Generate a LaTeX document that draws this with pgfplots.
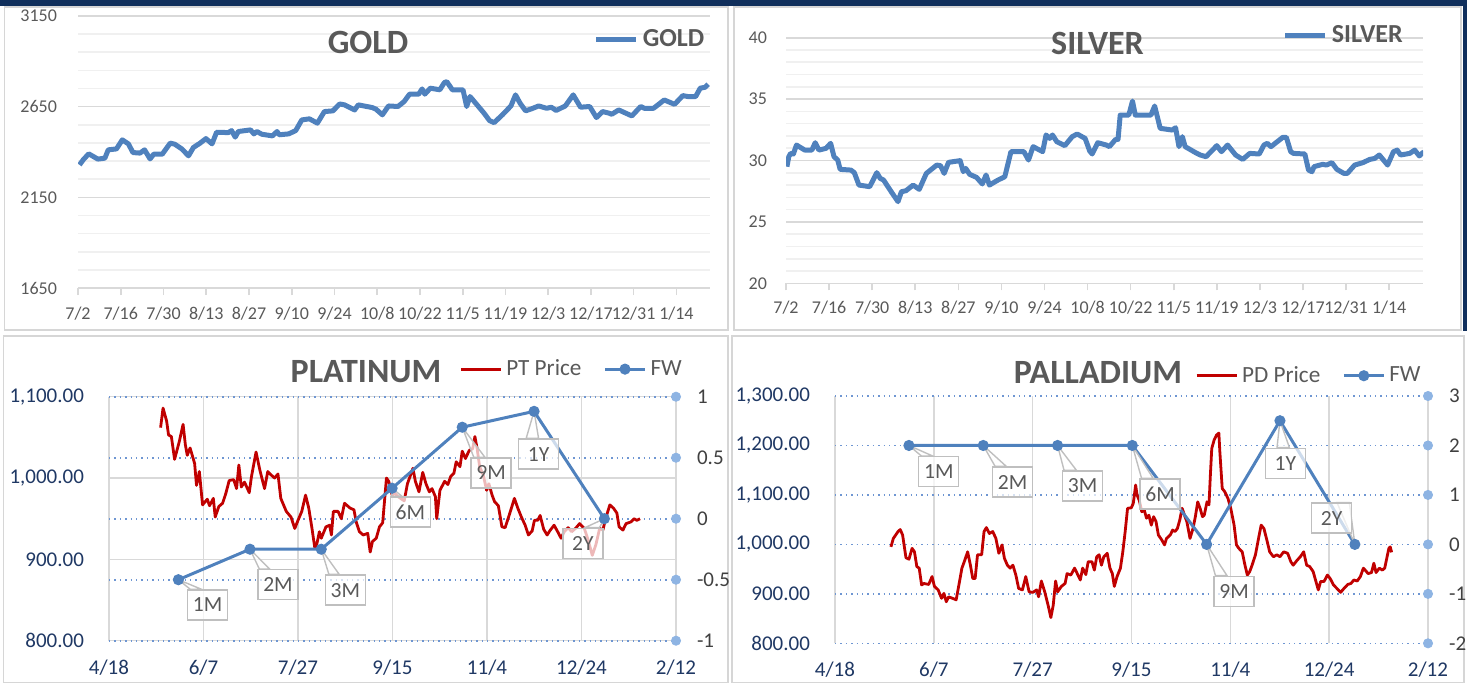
\documentclass[border=0pt]{standalone}
\usepackage{pgfplots}
\pgfplotsset{compat=1.18}
\usepackage{pgfplotstable}
\usepackage{fontspec}
\setmainfont{Carlito}
\usetikzlibrary{calc}
\definecolor{lineblue}{RGB}{79,129,189}
\definecolor{prred}{RGB}{192,0,0}
\definecolor{navytxt}{RGB}{31,56,100}
\definecolor{navybar}{RGB}{16,47,92}
\definecolor{txtgray}{RGB}{89,89,89}
\definecolor{gridgray}{RGB}{217,217,217}
\definecolor{minorgray}{RGB}{240,240,240}
\definecolor{dotgrid}{RGB}{110,150,210}
\definecolor{dotblue}{RGB}{142,180,227}
\definecolor{lblgray}{RGB}{191,191,191}
\definecolor{framegray}{RGB}{214,214,214}

\pgfplotstableread{
d v
0.5 2329
1.7 2357
3.5 2390
6.5 2361
8.8 2366
9.9 2412
12.6 2417
14.5 2467
16.5 2445
18 2397
20.3 2394
21.8 2412
23.6 2362
24.8 2388
27.6 2388
30.2 2449
31.7 2443
34 2417
36.2 2379
37.8 2425
40 2449
41.9 2474
43.9 2445
45.4 2509
49.2 2507
50.3 2518
51.5 2482
52.5 2513
56.5 2522
57.6 2500
58.6 2513
60.2 2498
63.7 2489
65.2 2513
65.9 2495
69 2500
71.3 2518
73.3 2577
75.8 2583
78.4 2559
80.7 2623
83.5 2627
85.7 2665
87.3 2660
90.6 2632
91.8 2660
96.4 2645
97.6 2636
99.7 2605
101.7 2654
104.8 2651
106.8 2678
108.6 2719
111.6 2719
112.7 2748
113.6 2719
115.4 2752
118.5 2743
120 2783
120.8 2788
122.6 2743
126.1 2743
127.3 2651
128.4 2706
130.7 2660
133 2614
134.8 2573
136.3 2562
139 2605
141.8 2654
143.3 2715
144.8 2669
146.6 2627
148.5 2638
150.9 2654
153.5 2641
155 2647
156.6 2629
159.6 2654
162.2 2715
164.6 2647
167.6 2651
169.8 2590
171.8 2623
174 2614
174.8 2608
177.1 2632
181.4 2599
184.3 2651
185.5 2641
188.5 2641
192 2687
195.4 2663
198.1 2711
199.7 2706
202.3 2706
203.8 2752
205.4 2757
206.4 2774
}\golddata

\pgfplotstableread{
d v
0.3 29.50
0.9 30.31
1.5 30.58
2.4 30.53
3.4 31.26
6.1 30.85
8.4 30.85
9.5 31.45
10.7 30.85
13 30.99
14.5 31.40
15.6 30.31
16.8 30.04
17.6 29.28
21.1 29.22
22.2 29.01
23.7 28.00
27.2 27.87
28.3 28.41
29.5 29.01
30.6 28.55
31.7 28.41
34.4 27.38
36.4 26.65
37.5 27.46
39 27.54
41.3 28.00
43.3 27.65
45.6 28.95
49 29.63
50.2 29.58
51.4 28.95
52.8 29.85
56.6 29.99
57.6 29.09
58.4 29.36
59.7 28.87
61.9 28.63
63.8 28.09
65 28.82
66.1 28.00
68.9 28.41
71.1 28.68
73.1 30.72
77.3 30.72
78.8 30.04
80.3 31.13
83.4 30.72
84.5 32.08
85.7 31.80
86.6 32.08
88 31.53
90.6 31.21
93 31.94
94.6 32.16
97.2 31.80
98.7 30.77
99.5 30.53
101.3 31.45
104.1 31.26
105.1 31.13
107.1 31.72
107.9 31.72
108.6 33.70
111.4 33.70
112.6 34.84
113.5 33.70
118.6 33.70
119.8 34.44
121.6 32.62
125.5 32.48
126.6 32.67
127.7 31.13
128.8 31.94
129.7 31.13
133.1 30.64
134.6 30.45
136.5 30.31
140 31.21
141.5 30.72
143.5 31.26
146.1 30.45
148.4 30.09
150.7 30.58
153.8 30.53
155.3 31.26
156.4 31.40
157.6 31.13
161.4 31.88
162.6 31.88
164 30.72
164.9 30.58
168.6 30.53
169.8 29.22
170.9 29.09
171.6 29.50
174.4 29.69
175.6 29.63
177.4 29.82
179 29.28
181.3 28.95
182.4 28.95
184.8 29.63
187.4 29.82
189.7 30.09
191.3 30.17
192.8 30.45
195.5 29.63
197.4 30.72
198.6 30.85
199.7 30.45
202.7 30.58
204.3 30.85
205.8 30.37
207.3 30.72
}\silverdata

\pgfplotstableread{
d v
27.3 1062
28.6 1086
30.5 1070
31.5 1053
33 1051
34.7 1023
37.2 1045
39.2 1066
40.4 1041
41.4 1028
42.9 1037
45.3 1018
46.3 991
47.8 1008
49.5 967
52 974
53.2 966
55.2 975
56.2 952
58.1 965
60.1 969
61.8 981
63.6 997
66 998
67.5 987
68.7 1016
70 989
71.7 995
74.2 982
75.4 1002
77.8 1032
79.8 1010
82.3 987
84 1008
85.7 1004
87.6 1000
89.4 1005
90.9 975
93.8 959
96.3 952
98.3 938
100 948
102 959
104 979
105.7 963
107.4 938
108.9 914
109.9 918
111.3 934
112.3 926
114.8 940
116.7 942
117.7 930
118.7 959
121.2 959
122.9 950
124.6 969
127.6 963
129.6 961
130.8 946
132.5 934
134.5 930
136.9 932
138.2 909
139.4 922
141.4 926
143.1 940
144.8 945
146.8 1000
148 996
149.8 979
151.2 981
153 977
156.2 972
157.9 993
159.6 1004
160.8 1012
162.1 996
164 983
166 1007
167.7 993
169.5 983
170.9 987
172.7 977
173.4 950
175.1 985
177.6 996
179.3 992
180.8 1002
182.5 1006
183.7 1020
185.7 1014
186.9 1033
188.6 1024
190.6 1034
192.4 1036
193.6 1051
194.8 1036
196.1 1014
198 1004
199.8 985
201 993
202.7 979
204 971
206 966
207.9 940
209.6 939
212.1 957
214.5 975
216.3 963
218.2 952
220.2 942
221.9 930
223.9 935
225.1 948
226.8 948
228.1 954
230 937
231.8 930
233.5 936
235.5 942
237.4 934
239.2 926
240.9 934
242.9 939
244.8 934
246.8 938
249 944
251.5 938
253.5 924
255.7 905
257.6 918
259.6 938
261.3 936
263 952
265 967
266.9 963
268.7 957
269.9 940
271.9 936
273.6 944
276.1 946
277.8 950
279.3 948
281 950
}\ptdata

\pgfplotstableread{
d v
28.3 995
29.5 1012
31.9 1026
33 1030
34.2 1019
35.9 973
37.4 970
39 992
40.2 985
41.4 955
42.6 952
43.8 918
45 921
47.4 919
49.1 935
50.3 915
52.2 908
53.9 891
55.1 901
56.3 884
57.5 894
59.4 891
61.3 888
63 925
64.2 952
65.4 965
67.1 985
68.5 958
69.7 931
70.9 931
72.1 979
74.2 979
75.4 1026
76.6 1034
78.1 1022
79.8 1026
81.4 1012
82.9 982
84.5 999
85.7 972
87.2 958
88.6 952
90 958
91.5 938
92.9 911
94.8 908
96.5 935
98.2 904
100.1 903
102 908
103 894
104.4 926
106.1 904
107.8 877
109.2 852
110.4 877
111.6 926
112.6 904
114.5 915
116.4 921
117.4 941
119.3 938
121.2 952
122.9 938
124.1 928
125.3 952
126.9 939
128.1 965
130 965
131.2 948
132.4 975
133.6 979
134.8 958
136 975
137.7 982
139.1 952
140.3 941
141.3 915
142.7 935
144.4 952
145.6 985
146.8 1026
148 1073
149.9 1074
150.9 1083
152.1 1120
152.8 1100
154 1088
155.2 1066
156.4 1070
157.6 1053
158.8 1059
160 1039
161.2 1056
162.4 1046
163.6 1019
165.3 1009
166.7 999
167.7 1012
169.6 1019
170.8 1029
172 1026
173.2 1032
174.4 1049
175.6 1073
176.8 1059
178 1046
179.6 1012
181.1 1032
182.3 1056
183.5 1086
184.7 1073
185.9 1056
186.8 1059
188.2 1086
189.2 1080
189.9 1140
190.6 1194
191.8 1211
193 1221
194.2 1225
194.7 1187
195.9 1113
197.1 1107
198.8 1093
200.2 1073
201.9 1039
203.1 999
204.3 992
206 985
207.4 958
208.6 938
209.8 945
211 958
212.7 979
214.6 1019
215.6 1039
217 1032
218.7 1005
219.9 985
221.8 975
223.5 979
225.1 975
227 985
229 982
230.6 965
231.8 958
233.8 968
235.4 975
237.1 985
238.6 958
240.2 955
241.9 945
243.3 925
244.5 908
245.7 925
247.4 925
249.1 938
250.5 931
252.2 918
253.9 911
255.8 903
257.5 911
259.4 919
261 921
262.5 928
264.2 926
265.8 935
267.3 952
268.2 948
269.7 941
271.4 943
272.6 962
273.7 943
275.4 952
276.9 948
278.1 952
279.3 975
280.2 992
280.9 995
281.6 984
}\pddata

\tikzset{
  lbl/.style={draw=lblgray, line width=0.7pt, fill=white, fill opacity=0.72, text opacity=1,
    text=txtgray, font=\fontsize{10.8}{12}\selectfont, minimum width=20pt, minimum height=15pt, inner sep=1pt},
  ptr/.style={draw=lblgray, line width=0.7pt, fill=white, fill opacity=0.72},
}
\newcommand{\callout}[6]{%
  \path (#2) node[lbl, draw=none, fill=none, text opacity=0] (#6) {#3};
  \filldraw[ptr] (#1) -- ($(#6.north west)!#4!(#6.north east)$) -- ($(#6.north west)!#5!(#6.north east)$) -- cycle;
  \node[lbl] at (#2) {#3};
}

\pgfplotsset{
  topstyle/.style={
    scale only axis, anchor=north west,
    xmin=0, xmax=207,
    separate axis lines, axis x line*=bottom, axis y line*=left,
    y axis line style={draw=none}, x axis line style={draw=gridgray, line width=0.8pt},
    xtick={0,14,...,196},
    xticklabels={7/2,7/16,7/30,8/13,8/27,9/10,9/24,10/8,10/22,11/5,11/19,12/3,12/17,12/31,1/14},
    tick align=outside, major tick length=3.5pt,
    xtick style={draw=gridgray, line width=0.8pt}, ytick style={draw=none},
    minor y tick style={draw=none},
    ymajorgrids, yminorgrids,
    major grid style={draw=gridgray, line width=0.8pt},
    minor grid style={draw=minorgray, line width=0.8pt},
    ticklabel style={font=\fontsize{9}{10}\selectfont, text=txtgray},
    legend style={draw=none, fill=none, font=\bfseries\fontsize{13}{14}\selectfont, text=txtgray, inner sep=0pt},
    legend image code/.code={\draw[#1] (0pt,0pt) -- (20pt,0pt);},
  },
  botstyle/.style={
    scale only axis, anchor=north west,
    xmin=0, xmax=300,
    axis line style={draw=none},
    xtick={0,50,...,300},
    xticklabels={4/18,6/7,7/27,9/15,11/4,12/24,2/12},
    tick style={draw=none},
    xmajorgrids, major grid style={draw=gridgray, line width=0.7pt},
    ticklabel style={font=\fontsize{10.5}{12}\selectfont, text=navytxt},
    xticklabel style={yshift=-6pt},
    yticklabel style={xshift=-9pt},
  },
  rightstyle/.style={
    scale only axis, anchor=north west,
    xmin=0, xmax=300, clip=false,
    axis x line=none, axis y line*=right,
    y axis line style={draw=none},
    tick style={draw=none},
    yticklabel style={font=\fontsize{10.5}{12}\selectfont, text=black!75, xshift=7pt},
    legend style={draw=none, fill=none, font=\fontsize{11.6}{13}\selectfont, text=txtgray, inner sep=0pt,
      legend columns=2, /tikz/every even column/.append style={column sep=9pt}},
    legend image code/.code={\draw[mark repeat=2,mark phase=2,#1] plot coordinates {(0pt,0pt) (10pt,0pt) (20pt,0pt)};},
  },
}

\begin{document}
\begin{tikzpicture}
\useasboundingbox (0,0) rectangle (733.5pt,-341pt);
% frames
\fill[navybar] (0,0) rectangle (733.5pt,-3pt);
\fill[navybar] (731.5pt,0) rectangle (733.5pt,-165.5pt);
\draw[framegray, line width=0.8pt] (2.3pt,-3.5pt) rectangle (364pt,-165pt);
\draw[framegray, line width=0.8pt] (367pt,-3.5pt) rectangle (730.5pt,-165pt);
\draw[framegray, line width=0.8pt] (1.8pt,-168pt) rectangle (364pt,-341.5pt);
\draw[framegray, line width=0.8pt] (366pt,-168pt) rectangle (732pt,-341.5pt);

% GOLD
\begin{axis}[topstyle, at={(39pt,-8pt)}, width=316pt, height=136pt,
  ymin=1650, ymax=3150, ytick={1650,2150,2650,3150}, yticklabels={1650,2150,2650,3150},
  minor ytick={1750,1850,1950,2050,2250,2350,2450,2550,2750,2850,2950,3050},
  yticklabel style={xshift=-3.5pt}, xticklabel style={yshift=-2.5pt},
  legend style={at={(0.998,0.912)}, anchor=east}]
\addplot[lineblue, line width=2.5pt, line join=round] table {\golddata};
\addlegendentry{GOLD}
\end{axis}
\node[font=\bfseries\fontsize{17}{20}\selectfont, text=txtgray] at (184pt,-21pt) {GOLD};

% SILVER
\begin{axis}[topstyle, at={(393pt,-18.85pt)}, width=318.5pt, height=122.8pt,
  ymin=20, ymax=40, ytick={20,25,30,35,40}, yticklabels={20,25,30,35,40},
  minor ytick={21,22,23,24,26,27,28,29,31,32,33,34,36,37,38,39},
  yticklabel style={xshift=-2.5pt}, xticklabel style={yshift=-2pt},
  legend style={at={(0.975,1.008)}, anchor=east}]
\addplot[lineblue, line width=2.5pt, line join=round] table {\silverdata};
\addlegendentry{SILVER}
\end{axis}
\node[font=\bfseries\fontsize{17}{20}\selectfont, text=txtgray] at (548.75pt,-21.5pt) {SILVER};

% PLATINUM
\begin{axis}[botstyle, at={(54.5pt,-198.35pt)}, width=283.5pt, height=122pt,
  ymin=800, ymax=1100, ytick={800,900,1000,1100},
  yticklabels={{800.00},{900.00},{1,000.00},{1,100.00}},
  ymajorgrids,
  extra y ticks={800,875,950,1025,1100}, extra y tick labels={},
  extra y tick style={grid=major, major grid style={draw=dotgrid, dotted, line width=0.8pt}}]
\addplot[prred, line width=1.4pt, line join=round] table {\ptdata};
\end{axis}
\begin{axis}[rightstyle, at={(54.5pt,-198.35pt)}, width=283.5pt, height=122pt,
  ymin=-1, ymax=1, ytick={-1,-0.5,0,0.5,1}, yticklabels={-1,-0.5,0,0.5,1},
  legend style={at={(1.018,1.113)}, anchor=east}]
\addlegendimage{prred, line width=1.4pt}
\addlegendentry{PT Price}
\addplot[lineblue, line width=1.5pt, mark=*, mark size=2pt, mark options={fill=lineblue}]
  coordinates {(36.7,-0.5) (74.6,-0.25) (112.3,-0.25) (149.8,0.25) (186.9,0.75) (224.9,0.88) (262.1,0)};
\addlegendentry{FW}
\addplot[only marks, mark=*, mark size=2.3pt, color=dotblue, forget plot]
  coordinates {(300,-1) (300,-0.5) (300,0) (300,0.5) (300,1)};
\callout{axis cs:36.7,-0.5}{axis cs:52.2,-0.707}{1M}{0.08}{0.35}{p1}
\callout{axis cs:74.6,-0.25}{axis cs:89.4,-0.541}{2M}{0.05}{0.3}{p2}
\callout{axis cs:112.3,-0.25}{axis cs:125.1,-0.585}{3M}{0.1}{0.35}{p3}
\callout{axis cs:149.8,0.25}{axis cs:159.4,0.055}{6M}{0.05}{0.3}{p4}
\callout{axis cs:186.9,0.75}{axis cs:202.2,0.375}{9M}{0.08}{0.35}{p5}
\callout{axis cs:224.9,0.88}{axis cs:227.3,0.53}{1Y}{0.2}{0.5}{p6}
\callout{axis cs:262.1,0}{axis cs:250.7,-0.202}{2Y}{0.55}{0.9}{p7}
\end{axis}
\node[font=\bfseries\fontsize{17}{20}\selectfont, text=txtgray] at (183pt,-186pt) {PLATINUM};

% PALLADIUM
\begin{axis}[botstyle, at={(417.5pt,-198pt)}, width=296.5pt, height=123.65pt,
  ymin=800, ymax=1300, ytick={800,900,...,1300},
  yticklabels={{800.00},{900.00},{1,000.00},{1,100.00},{1,200.00},{1,300.00}},
  ymajorgrids=false,
  extra y ticks={800,900,1000,1100,1200,1300}, extra y tick labels={},
  extra y tick style={grid=major, major grid style={draw=dotgrid, dotted, line width=0.8pt}}]
\addplot[prred, line width=1.4pt, line join=round] table {\pddata};
\end{axis}
\begin{axis}[rightstyle, at={(417.5pt,-198pt)}, width=296.5pt, height=123.65pt,
  ymin=-2, ymax=3, ytick={-2,-1,0,1,2,3}, yticklabels={-2,-1,0,1,2,3},
  legend style={at={(0.995,1.082)}, anchor=east}]
\addlegendimage{prred, line width=1.4pt}
\addlegendentry{PD Price}
\addplot[lineblue, line width=1.5pt, mark=*, mark size=2pt, mark options={fill=lineblue}]
  coordinates {(37.4,2) (75,2) (112.6,2) (150.4,2) (188,0) (225.1,2.5) (263,0)};
\addlegendentry{FW}
\addplot[only marks, mark=*, mark size=2.3pt, color=dotblue, forget plot]
  coordinates {(300,-2) (300,-1) (300,0) (300,1) (300,2) (300,3)};
\callout{axis cs:37.4,2}{axis cs:52.5,1.47}{1M}{0.08}{0.35}{d1}
\callout{axis cs:75,2}{axis cs:89.8,1.26}{2M}{0.08}{0.35}{d2}
\callout{axis cs:112.6,2}{axis cs:125.3,1.18}{3M}{0.05}{0.35}{d3}
\callout{axis cs:150.4,2}{axis cs:164.5,1.02}{6M}{0.05}{0.33}{d4}
\callout{axis cs:188,0}{axis cs:201.9,-0.95}{9M}{0.05}{0.33}{d5}
\callout{axis cs:225.1,2.5}{axis cs:227.8,1.64}{1Y}{0.3}{0.6}{d6}
\callout{axis cs:263,0}{axis cs:251.2,0.53}{2Y}{0.63}{0.93}{d7}
\end{axis}
\node[font=\bfseries\fontsize{17}{20}\selectfont, text=txtgray] at (549pt,-186.2pt) {PALLADIUM};
\end{tikzpicture}
\end{document}
